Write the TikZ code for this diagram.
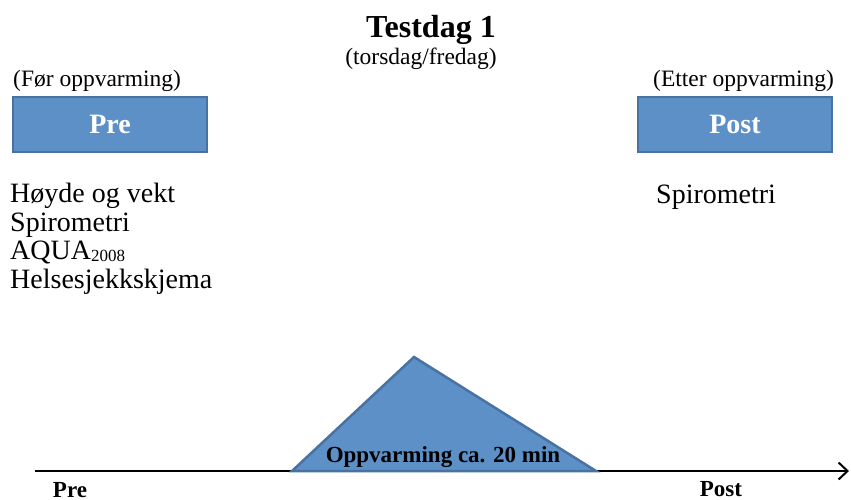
\documentclass[tikz,border=0pt]{standalone}
\usepackage{fontspec}
\setmainfont{Liberation Serif}
\usepackage{xcolor}
\usepackage{tikz}
\usetikzlibrary{arrows.meta, positioning}

\definecolor{boxfill}{RGB}{92,144,199}
\definecolor{boxline}{RGB}{72,114,162}

\begin{document}
\begin{tikzpicture}[
  x=1pt, y=-1pt,
  phase/.style={draw=boxline, line width=2.5pt, fill=boxfill, minimum width=194pt, minimum height=55pt, inner sep=0pt, text=white, font=\bfseries\fontsize{28}{30}\selectfont},
  note/.style={anchor=base west, inner sep=0pt, font=\fontsize{23.5}{26}\selectfont},
  item/.style={anchor=base west, inner sep=0pt, align=left, font=\fontsize{28}{28.4}\selectfont},
  axlabel/.style={anchor=base, inner sep=0pt, font=\bfseries\fontsize{23}{25}\selectfont},
  arr/.style={-{Straight Barb[length=9pt, width=17pt, line width=2pt]}, line width=1.3pt}
]
  \useasboundingbox (0,0) rectangle (851,500);

  % Title
  \node[anchor=base, inner sep=0pt, font=\bfseries\fontsize{32}{34}\selectfont] (title) at (431,38) {Testdag 1};
  \node[anchor=base, inner sep=0pt, font=\fontsize{23.5}{26}\selectfont] (sub) at (421,65) {(torsdag/fredag)};

  % Pre and Post boxes
  \node[phase] (pre) at (110,124.5) {Pre};
  \node[phase] (post) at (735,124.5) {Post};
  \node[note] (prenote) at (13,87) {(Før oppvarming)};
  \node[note] (postnote) at (653,87) {(Etter oppvarming)};

  % Tests (base = last line)
  \node[item] (pretests) at (10,288) {Høyde og vekt\\Spirometri\\AQUA\raisebox{-2pt}{\fontsize{17}{17}\selectfont 2008}\\Helsesjekkskjema};
  \node[item] (posttests) at (656,203) {Spirometri};

  % Time axis
  \coordinate (axstart) at (35,471);
  \coordinate (axend) at (849,471);
  \draw[arr] (axstart) -- (axend);

  % Warm-up triangle
  \coordinate (wleft) at (292,471);
  \coordinate (wtop) at (414,357);
  \coordinate (wright) at (596,471);
  \draw[draw=boxline, line width=2.5pt, fill=boxfill, line join=miter] (wleft) -- (wtop) -- (wright) -- cycle;
  \node[axlabel] (warmup) at (443,462) {Oppvarming ca. 20 min};

  % Axis labels
  \node[axlabel] (prelabel) at (70,497) {Pre};
  \node[axlabel] (postlabel) at (721,496) {Post};

\end{tikzpicture}
\end{document}
